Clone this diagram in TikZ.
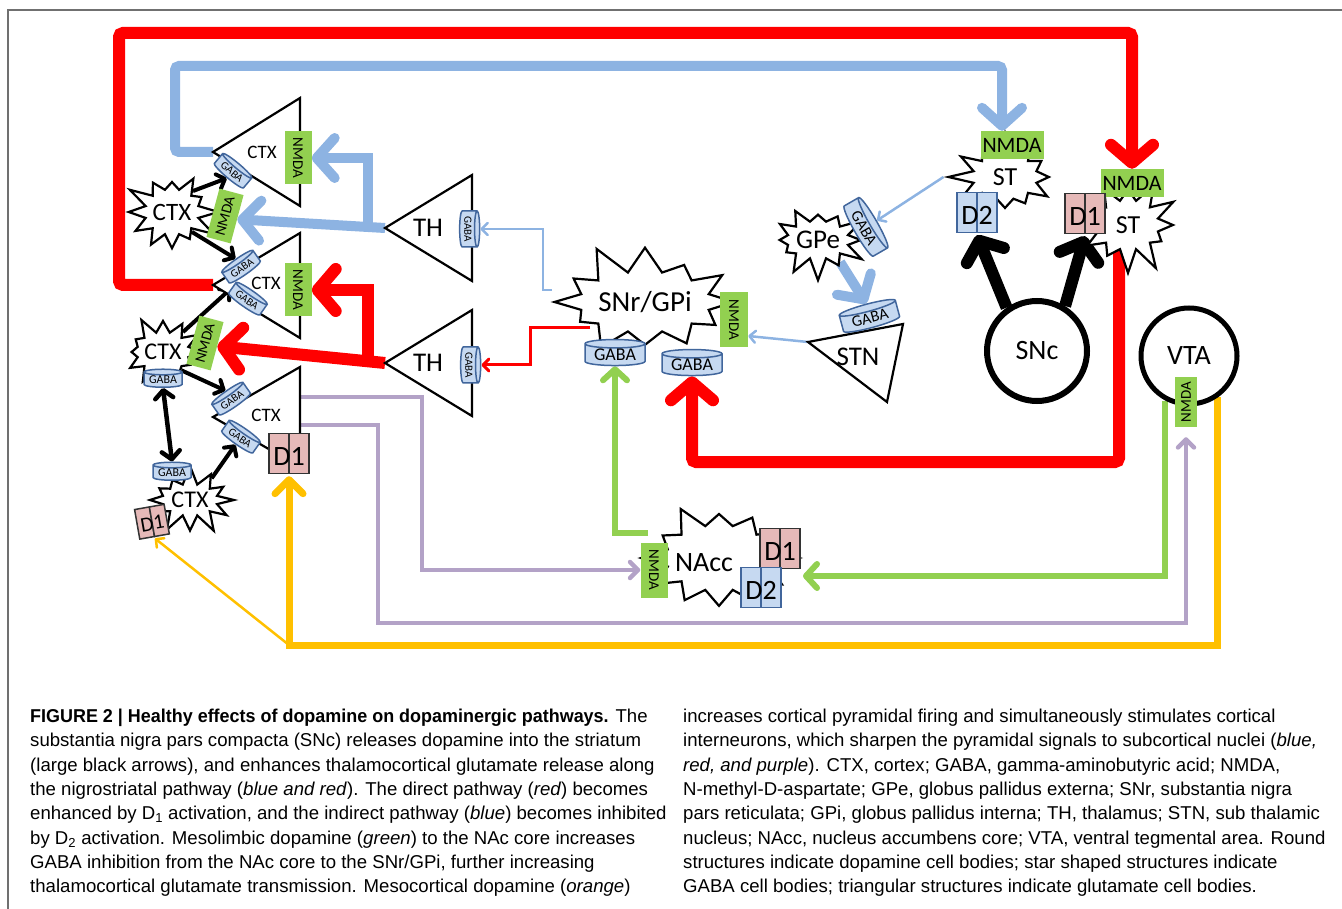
\documentclass[tikz,border=0pt]{standalone}
\usepackage{fontspec}
\setmainfont{Carlito}
\newfontfamily\capfont[BoldFeatures={FakeStretch=0.965}]{Liberation Sans}
\usepackage{xcolor}
\usepackage{tikz}
\usetikzlibrary{arrows.meta,shapes.geometric,shapes.symbols,backgrounds}
\definecolor{dpred}{HTML}{FF0000}
\definecolor{dpblue}{HTML}{8DB3E2}
\definecolor{dpgreen}{HTML}{92D050}
\definecolor{dppurple}{HTML}{B3A2C7}
\definecolor{dporange}{HTML}{FFC000}
\definecolor{gabafill}{HTML}{C6D9F1}
\definecolor{gabaline}{HTML}{41669C}
\definecolor{donefill}{HTML}{E6B9B8}
\definecolor{framegray}{HTML}{707070}

% two receptor cylinders with one label: name, x, y, colours, label, extra options
\newcommand{\recpair}[6]{%
  \begin{scope}[shift={(#2,#3)},#6,transform shape]
    \node[dcyl,#4] (#1a) at (-10,0) {};
    \node[dcyl,#4] (#1b) at (10,0) {};
    \node[dlab] (#1) at (0,2) {#5};
  \end{scope}}

\begin{document}
\begin{tikzpicture}[x=1pt,y=-1pt,
  every node/.style={inner sep=0pt},
  cell/.style={draw=black,fill=white,line width=2.2pt},
  burst/.style={starburst,starburst points=12,starburst point height=22pt,draw=black,fill=white,line width=2.2pt},
  nmda/.style={fill=dpgreen,minimum width=53pt,minimum height=27pt,font=\fontsize{15}{15}\selectfont},
  gaba/.style={cylinder,shape border rotate=90,aspect=0.2,draw=gabaline,fill=gabafill,line width=1.5pt,minimum width=38pt,minimum height=18pt,font=\fontsize{11}{11}\selectfont},
  biggaba/.style={gaba,minimum width=60pt,minimum height=26pt,font=\fontsize{18}{18}\selectfont},
  dcyl/.style={cylinder,shape border rotate=90,aspect=0.55,line width=1.5pt,minimum width=20pt,minimum height=40pt,cylinder uses custom fill},
  done/.style={cylinder body fill=donefill,cylinder end fill=donefill!80!black,draw=black!80},
  dtwo/.style={cylinder body fill=gabafill,cylinder end fill=gabafill!80!gabaline,draw=gabaline},
  dlab/.style={minimum width=40pt,minimum height=40pt,font=\fontsize{28}{28}\selectfont},
  body/.style={circle,draw=black,fill=white,line width=6pt,minimum size=100pt,font=\fontsize{28}{28}\selectfont},
  redthick/.style={draw=dpred,line width=12pt,-{Straight Barb[round,length=18pt,width=42pt]}},
  redthin/.style={draw=dpred,line width=3pt,-{Straight Barb[round,length=6pt,width=12pt]}},
  bluethick/.style={draw=dpblue,line width=10pt,-{Straight Barb[round,length=18pt,width=40pt]}},
  bluethin/.style={draw=dpblue,line width=2.5pt,-{Straight Barb[round,length=6pt,width=12pt]}},
  purpleline/.style={draw=dppurple,line width=4.5pt,-{Straight Barb[round,length=8pt,width=16pt]}},
  greenline/.style={draw=dpgreen,line width=6pt,-{Straight Barb[round,length=11pt,width=24pt]}},
  orangeline/.style={draw=dporange,line width=7pt,-{Straight Barb[round,length=14pt,width=28pt]}},
  orangethin/.style={draw=dporange,line width=2.5pt,-{Straight Barb[round,length=6pt,width=12pt]}},
  blackbig/.style={draw=black,line width=12pt,-{Straight Barb[round,length=16pt,width=40pt]}},
  blacksmall/.style={draw=black,line width=4pt,-{Straight Barb[round,length=7pt,width=15pt]}},
  blackboth/.style={draw=black,line width=4.5pt,{Straight Barb[round,length=8pt,width=18pt]}-{Straight Barb[round,length=8pt,width=18pt]}},
  capt/.style={font=\capfont\fontsize{18.6}{24.3}\selectfont,align=left,anchor=north west}]
\useasboundingbox (0,0) rectangle (1342,909);
\draw[framegray,line width=2pt] (8,909) -- (8,10) -- (1342,10);

% pyramidal cells
\coordinate (ctxA) at (213,152);
\draw[cell] (ctxA) -- ++(87,-54) -- ++(0,108) -- cycle;
\node[font=\fontsize{19}{19}\selectfont] (ctxAl) at (262,152) {CTX};
\coordinate (ctxB) at (213,285);
\draw[cell] (ctxB) -- ++(87,-52) -- ++(0,105) -- cycle;
\node[font=\fontsize{19}{19}\selectfont] (ctxBl) at (266,283) {CTX};
\coordinate (ctxC) at (213,417);
\draw[cell] (ctxC) -- ++(87,-50) -- ++(0,100) -- cycle;
\node[font=\fontsize{19}{19}\selectfont] (ctxCl) at (266,415) {CTX};
\coordinate (thA) at (385,228);
\draw[cell] (thA) -- ++(87,-53) -- ++(0,106) -- cycle;
\node[font=\fontsize{27}{27}\selectfont] (thAl) at (428,228) {TH};
\coordinate (thB) at (385,363);
\draw[cell] (thB) -- ++(87,-53) -- ++(0,106) -- cycle;
\node[font=\fontsize{27}{27}\selectfont] (thBl) at (428,363) {TH};
\coordinate (stn) at (808,342);
\draw[cell] (stn) -- (903,324) -- (887,402) -- cycle;
\node[font=\fontsize{27}{27}\selectfont] (stnl) at (858,357) {STN};

% GABA cells
\node[burst,minimum width=88pt,minimum height=90pt,random starburst=3,font=\fontsize{25}{25}\selectfont] (ctxS1) at (172,212) {CTX};
\node[burst,minimum width=80pt,minimum height=76pt,starburst point height=18pt,random starburst=5,font=\fontsize{24}{24}\selectfont] (ctxS2) at (163,352) {CTX};
\node[burst,minimum width=96pt,minimum height=72pt,starburst point height=20pt,random starburst=7,font=\fontsize{24}{24}\selectfont] (ctxS3) at (190,500) {CTX};
\node[burst,minimum width=182pt,minimum height=125pt,starburst point height=32pt,random starburst=11,font=\fontsize{29}{29}\selectfont] (snr) at (645,302) {SNr/GPi};
\node[burst,minimum width=100pt,minimum height=82pt,random starburst=13,font=\fontsize{27}{27}\selectfont] (gpe) at (818,240) {GPe};
\node[burst,minimum width=115pt,minimum height=95pt,starburst point height=25pt,random starburst=17,font=\fontsize{26}{26}\selectfont] (stL) at (1005,177) {ST};
\node[burst,minimum width=112pt,minimum height=100pt,starburst point height=25pt,random starburst=19,font=\fontsize{26}{26}\selectfont] (stR) at (1128,225) {ST};
\node[burst,minimum width=162pt,minimum height=122pt,starburst point height=28pt,random starburst=29] (nacc) at (719,558) {};
\node[font=\fontsize{28}{28}\selectfont] (naccl) at (704,563) {NAcc};

% dopamine cells
\node[body] (snc) at (1037,351) {SNc};
\node[body,line width=5pt,minimum size=96pt] (vta) at (1189,356) {VTA};

% NMDA receptors
\node[nmda,rotate=-90] (nmdaA) at (298,158) {NMDA};
\node[nmda,rotate=75,minimum width=50pt,minimum height=25pt] (nmdaS1) at (225,216) {NMDA};
\node[nmda,rotate=-90] (nmdaB) at (298,290) {NMDA};
\node[nmda,rotate=75,minimum width=50pt,minimum height=25pt] (nmdaS2) at (205,343) {NMDA};
\node[nmda,rotate=-90,minimum width=55pt,minimum height=28pt] (nmdaSnr) at (734,320) {NMDA};
\node[nmda,minimum width=63pt,minimum height=28pt,font=\fontsize{22}{22}\selectfont] (nmdaStL) at (1012,145) {NMDA};
\node[nmda,minimum width=63pt,minimum height=28pt,font=\fontsize{22}{22}\selectfont] (nmdaStR) at (1132,183) {NMDA};
\node[nmda,rotate=90,minimum width=50pt,minimum height=22pt] (nmdaVta) at (1186,402) {NMDA};
\node[nmda,rotate=-90,minimum width=55pt,minimum height=27pt] (nmdaNacc) at (654,570) {NMDA};

% GABA receptors
\node[gaba,rotate=-40] (gabaA) at (232,172) {GABA};
\node[gaba,rotate=35] (gabaB1) at (242,268) {GABA};
\node[gaba,rotate=-35] (gabaB2) at (247,300) {GABA};
\node[gaba,rotate=35] (gabaC1) at (232,400) {GABA};
\node[gaba,rotate=-35] (gabaC2) at (240,438) {GABA};
\node[gaba,font=\fontsize{12}{12}\selectfont] (gabaS2) at (163,380) {GABA};
\node[gaba,font=\fontsize{12}{12}\selectfont] (gabaS3) at (172,473) {GABA};
\node[gaba,rotate=-90,minimum width=36pt,minimum height=20pt] (gabaTHA) at (468,229) {GABA};
\node[gaba,rotate=-90,minimum width=36pt,minimum height=20pt] (gabaTHB) at (469,365) {GABA};
\node[biggaba] (gabaSnrL) at (615,355) {GABA};
\node[biggaba] (gabaSnrR) at (692,365) {GABA};
\node[biggaba,rotate=-60,minimum width=58pt,minimum height=24pt,font=\fontsize{16}{16}\selectfont] (gabaGpe) at (864,228) {GABA};
\node[biggaba,rotate=15,minimum width=58pt,minimum height=24pt,font=\fontsize{16}{16}\selectfont] (gabaStn) at (870,318) {GABA};

% dopamine receptors
\recpair{dL}{977}{213}{dtwo}{D2}{}
\recpair{dR}{1085}{214}{done}{D1}{}
\recpair{dC}{289}{454}{done}{D1}{}
\recpair{dS3}{152}{522}{done}{D1}{rotate=10,scale=0.75}
\recpair{dN1}{780}{549}{done}{D1}{}
\recpair{dN2}{761}{588}{dtwo}{D2}{}

% branch points
\coordinate (thAj) at (368,227);
\coordinate (thBj) at (368,360);
\coordinate (snrB) at (552,290);
\coordinate (snrR) at (590,328);
\coordinate (ctxCo1) at (300,397);
\coordinate (ctxCo2) at (300,425);
\coordinate (naccG) at (648,533);
\coordinate (yJ) at (289,645);

\begin{pgfonlayer}{background}
% direct pathway
\draw[redthick,rounded corners=4pt] (ctxB) -| (119,33) -| (nmdaStR.north);
\draw[redthick,rounded corners=4pt] ([xshift=-9pt]stR.center) -- ++(0,237) -| (gabaSnrR.south);
\draw[redthick] (thB) -- (nmdaS2.south);
\draw[redthick] (thBj) |- (nmdaB.north);
\draw[redthin] (snrR) -- (530,328) |- (gabaTHB.north);
% indirect pathway
\draw[bluethick,rounded corners=4pt] (ctxA) -| (175,66) -| ([xshift=-10pt]nmdaStL.north);
\draw[bluethick] (thA) -- (nmdaS1.south);
\draw[bluethick] (thAj) |- (nmdaA.north);
\draw[bluethick] (gpe.south east) -- (gabaStn.north);
\draw[bluethin] (snrB) -- (543,290) |- (gabaTHA.north);
\draw[bluethin] (stL.west) -- (gabaGpe.north);
\draw[bluethin] (stn) -- ([yshift=-16pt]nmdaSnr.north);
% cortical output
\draw[purpleline] (ctxCo1) -| (422,570) -- (nmdaNacc.south);
\draw[purpleline] (ctxCo2) -| (378,623) -| ([yshift=-10pt]nmdaVta.west);
% mesolimbic
\draw[greenline] (vta.242) |- ([yshift=-18pt]nacc.east);
\draw[greenline] (naccG) -| (gabaSnrL.south);
% mesocortical
\draw[orangeline] (vta.305) |- (yJ) -- (dC.south);
\draw[orangethin] (yJ) -- (dS3.south);
% nigrostriatal
\draw[blackbig] (snc.125) -- (dL.south);
\draw[blackbig] (snc.58) -- (dR.south);
% interneurons
\draw[blacksmall] (ctxS1.north east) -- (gabaA.south);
\draw[blacksmall] (ctxS1.south east) -- (gabaB1.north);
\draw[blacksmall] (ctxS2.north east) -- (gabaB2.west);
\draw[blacksmall] (ctxS2.south east) -- (gabaC1.north);
\draw[blackboth] (gabaS2.south) -- (gabaS3.north);
\draw[blacksmall] (ctxS3.north east) -- (gabaC2.south);
\end{pgfonlayer}

% caption
\node[capt] (capL) at (30,709) {\textbf{FIGURE 2 | Healthy effects of dopamine on dopaminergic pathways.} The\\
substantia nigra pars compacta (SNc) releases dopamine into the striatum\\
(large black arrows), and enhances thalamocortical glutamate release along\\
the nigrostriatal pathway (\textit{blue and red}). The direct pathway (\textit{red}) becomes\\
enhanced by D\textsubscript{1} activation, and the indirect pathway (\textit{blue}) becomes inhibited\\
by D\textsubscript{2} activation. Mesolimbic dopamine (\textit{green}) to the NAc core increases\\
GABA inhibition from the NAc core to the SNr/GPi, further increasing\\
thalamocortical glutamate transmission. Mesocortical dopamine (\textit{orange})};
\node[capt] (capR) at (683,709) {increases cortical pyramidal firing and simultaneously stimulates cortical\\
interneurons, which sharpen the pyramidal signals to subcortical nuclei (\textit{blue,}\\
\textit{red, and purple}). CTX, cortex; GABA, gamma-aminobutyric acid; NMDA,\\
N-methyl-D-aspartate; GPe, globus pallidus externa; SNr, substantia nigra\\
pars reticulata; GPi, globus pallidus interna; TH, thalamus; STN, sub thalamic\\
nucleus; NAcc, nucleus accumbens core; VTA, ventral tegmental area. Round\\
structures indicate dopamine cell bodies; star shaped structures indicate\\
GABA cell bodies; triangular structures indicate glutamate cell bodies.};
\end{tikzpicture}
\end{document}
